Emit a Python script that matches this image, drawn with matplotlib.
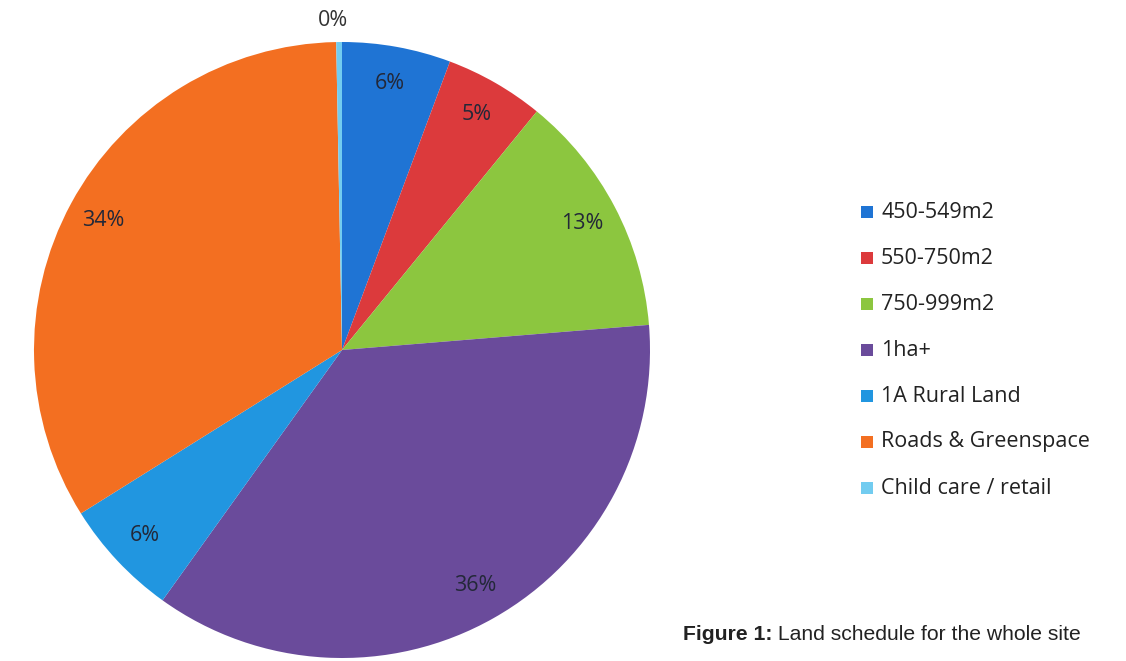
import matplotlib
matplotlib.use("Agg")
import matplotlib.pyplot as plt
from matplotlib.patches import Rectangle
import numpy as np

categories = ["450-549m2", "550-750m2", "750-999m2", "1ha+", "1A Rural Land",
              "Roads & Greenspace", "Child care / retail"]
values = [5.7, 5.2, 12.8, 36.2, 6.2, 33.6, 0.3]
colors = ["#1f74d4", "#dc3a3c", "#8cc63f", "#6a4b9b", "#2196e0", "#f36f21", "#72ccf0"]
caption_bold = "Figure 1:"
caption_rest = " Land schedule for the whole site"

W, H = 1126, 661
fig = plt.figure(figsize=(W / 100, H / 100), dpi=100)
fig.patch.set_facecolor("white")

cx, cy, R = 342, 350, 308
ax = fig.add_axes([(cx - R) / W, (H - cy - R) / H, 2 * R / W, 2 * R / H])

wedges, texts, autotexts = ax.pie(
    values, colors=colors, startangle=90, counterclock=False, radius=1.0,
    autopct="%.0f%%", pctdistance=0.88,
    wedgeprops=dict(linewidth=0),
    textprops=dict(fontsize=15.5, family=["Open Sans", "DejaVu Sans"], color="#232838"))
ax.set_xlim(-1, 1)
ax.set_ylim(-1, 1)
ax.set_aspect("equal")
ax.axis("off")

# move the tiny slice's label outside
w = wedges[-1]
ang = np.deg2rad((w.theta1 + w.theta2) / 2)
autotexts[-1].set_position((1.07 * np.cos(ang) - 0.02, 1.07 * np.sin(ang)))
autotexts[-1].set_color("#333333")
autotexts[-1].set_clip_on(False)

# legend
lx, ly0, dy = 867 / W, 1 - 212 / H, 46 / H
for i, (cat, col) in enumerate(zip(categories, colors)):
    y = ly0 - i * dy
    fig.patches.append(Rectangle((lx - 6 / W, y - 6 / H), 12 / W, 12 / H,
                                 transform=fig.transFigure, facecolor=col,
                                 edgecolor="none"))
    fig.text(881 / W, y, cat, fontsize=15.5, family=["Open Sans", "DejaVu Sans"],
             color="#222222", va="center", ha="left")

# caption
t1 = fig.text(683 / W, 1 - 635 / H, caption_bold, fontsize=15.2, weight="bold",
              family=["Liberation Sans", "DejaVu Sans"], color="#222222",
              va="center", ha="left")
fig.canvas.draw()
bb = t1.get_window_extent()
fig.text(bb.x1 / W, 1 - 635 / H, caption_rest, fontsize=15.2,
         family=["Liberation Sans", "DejaVu Sans"], color="#222222",
         va="center", ha="left")

fig.savefig("out.png", dpi=100, facecolor="white")
